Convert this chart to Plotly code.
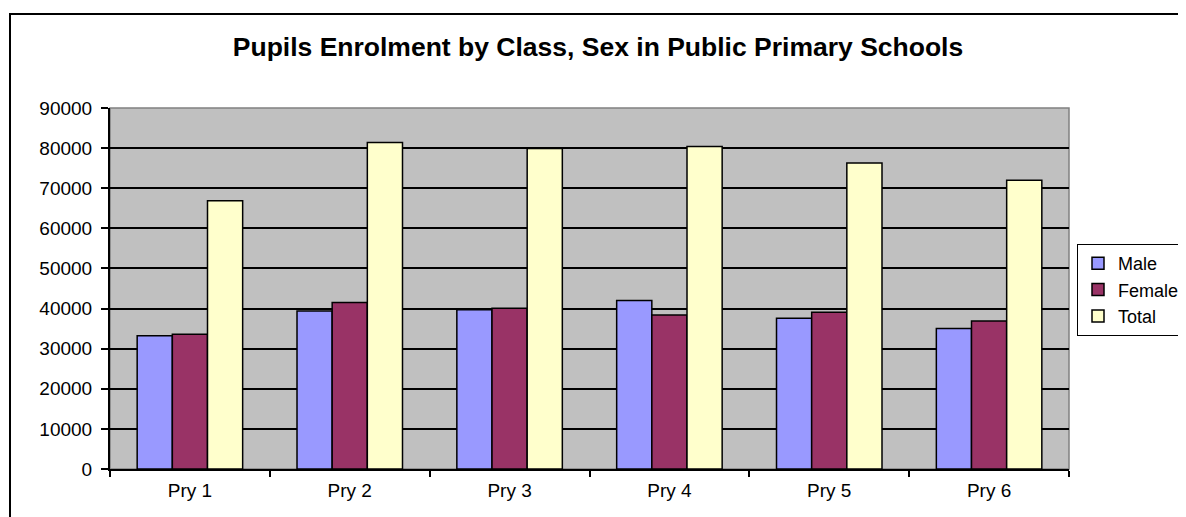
import plotly.graph_objects as go

categories = ["Pry 1", "Pry 2", "Pry 3", "Pry 4", "Pry 5", "Pry 6"]
male = [33200, 39400, 39700, 42000, 37600, 35000]
female = [33600, 41500, 40100, 38400, 39100, 36900]
total = [66900, 81400, 79900, 80400, 76300, 72000]
y_ticks = [0, 10000, 20000, 30000, 40000, 50000, 60000, 70000, 80000, 90000]

# page body has an 8px margin; work in page pixels and subtract it
OFF = 8
W, H = 1186 - OFF, 517 - OFF
L, R, T, B = 110 - OFF, 1069 - OFF, 108 - OFF, 469 - OFF
pw, ph = R - L, B - T


def px(x):
    return (x - OFF - L) / pw


def py(y):
    return (B - (y - OFF)) / ph


FONT = "Liberation Sans, Arial, sans-serif"
line = dict(color="#000000", width=1.5)

fig = go.Figure()
fig.add_trace(go.Bar(name="Male", x=categories, y=male,
                     marker=dict(color="#9999FF", line=line)))
fig.add_trace(go.Bar(name="Female", x=categories, y=female,
                     marker=dict(color="#993366", line=line)))
fig.add_trace(go.Bar(name="Total", x=categories, y=total,
                     marker=dict(color="#FFFFCC", line=line)))

fig.update_layout(
    width=W, height=H,
    margin=dict(l=L, r=W - R, t=T, b=H - B, autoexpand=False),
    paper_bgcolor="white",
    plot_bgcolor="#C0C0C0",
    barmode="group",
    bargap=0.34,
    bargroupgap=0,
    font=dict(family=FONT, size=19, color="#000000"),
    title=dict(text="<b>Pupils Enrolment by Class, Sex in Public Primary Schools</b>",
               x=px(598), xref="paper", xanchor="center",
               y=1 - (47 - OFF) / H, yref="container", yanchor="middle",
               font=dict(family=FONT, size=26.5, color="#000000")),
    legend=dict(x=px(1077), y=py(244), xanchor="left", yanchor="top",
                bgcolor="white", bordercolor="#000000", borderwidth=1,
                font=dict(family=FONT, size=18), tracegroupgap=0,
                itemwidth=30),
    showlegend=True,
)

fig.update_xaxes(
    showgrid=False, showline=True, linecolor="#000000", linewidth=2,
    ticks="outside", tickson="boundaries", ticklen=6, tickcolor="#000000",
    tickwidth=1.5, tickfont=dict(family=FONT, size=19),
    ticklabelstandoff=3,
)
fig.update_yaxes(
    range=[0, 90000], tickvals=y_ticks, ticktext=[str(v) for v in y_ticks],
    showgrid=True, gridcolor="#000000", gridwidth=1.5,
    showline=True, linecolor="#000000", linewidth=2,
    ticks="outside", ticklen=7, tickcolor="#000000", tickwidth=1.5,
    tickfont=dict(family=FONT, size=19), zeroline=False,
    ticklabelstandoff=5,
)

# plot area right/top border (gray)
fig.add_shape(type="rect", xref="paper", yref="paper", x0=0, y0=0, x1=1, y1=1,
              line=dict(color="#808080", width=1.5), layer="below")
# outer chart border
fig.add_shape(type="rect", xref="paper", yref="paper",
              x0=px(10), y0=py(540), x1=px(1210), y1=py(14),
              line=dict(color="#000000", width=2))

fig.write_html("out.html")
